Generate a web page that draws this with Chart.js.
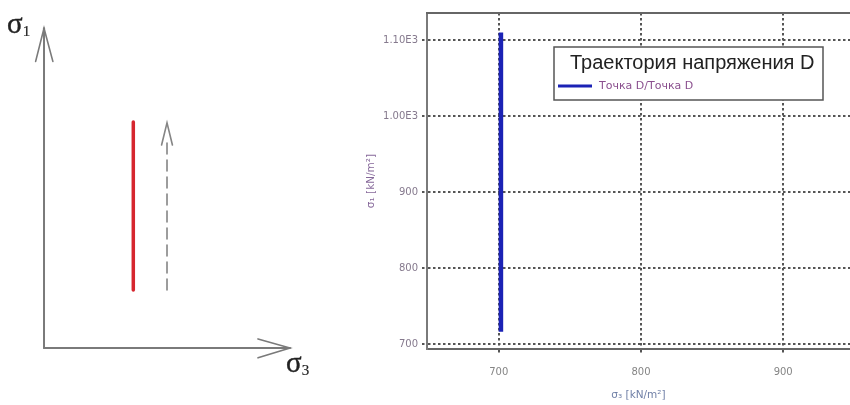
<!DOCTYPE html>
<html>
  <head>
    <meta charset="utf-8">
    <script src="https://cdn.jsdelivr.net/npm/chart.js"></script>

    <script type="text/javascript">
      // left sketch, in loose schematic units (origin = axes corner)
      var sketchAxisS1 = [{x: 0, y: 0}, {x: 0, y: 13}];
      var sketchArrowS1 = [{x: -0.34, y: 11.65}, {x: 0, y: 13}, {x: 0.36, y: 11.65}];
      var sketchAxisS3 = [{x: 0, y: 0}, {x: 10, y: 0}];
      var sketchArrowS3 = [{x: 8.7, y: 0.37}, {x: 10, y: 0}, {x: 8.7, y: -0.4}];
      var sketchPathRed = [{x: 3.63, y: 2.36}, {x: 3.63, y: 9.19}];
      var sketchPathDash = [{x: 5.0, y: 2.36}, {x: 5.0, y: 8.5}];
      var sketchArrowDash = [{x: 4.78, y: 8.25}, {x: 5.0, y: 9.15}, {x: 5.22, y: 8.25}];

      // right chart: stress path D
      var sigma3 = [701.5, 701.5];
      var sigma1 = [716, 1110];
      var xTicks = [700, 800, 900];
      var yTicks = [700, 800, 900, 1000, 1100];
      var yTickLabels = ["700", "800", "900", "1.00E3", "1.10E3"];
      var legendTitle = "Траектория напряжения D";
      var seriesLabel = "Точка D/Точка D";

      function drawSketch() {
        const ctx = document.getElementById('sketchChart');
        const grey = '#7a7a7a';
        new Chart(ctx, {
          type: 'scatter',
          data: {
            datasets: [
              {data: sketchAxisS1, borderColor: grey, borderWidth: 2},
              {data: sketchArrowS1, borderColor: grey, borderWidth: 1.6},
              {data: sketchAxisS3, borderColor: grey, borderWidth: 2},
              {data: sketchArrowS3, borderColor: grey, borderWidth: 1.6},
              {data: sketchPathRed, borderColor: '#d6262e', borderWidth: 3.5},
              {data: sketchPathDash, borderColor: '#858585', borderWidth: 1.6, borderDash: [11, 6]},
              {data: sketchArrowDash, borderColor: '#858585', borderWidth: 1.6}
            ].map(function (d) {
              d.showLine = true;
              d.pointRadius = 0;
              d.clip = false;
              d.borderCapStyle = 'round';
              return d;
            })
          },
          options: {
            animation: false,
            responsive: false,
            events: [],
            layout: {padding: 0},
            plugins: {legend: {display: false}, tooltip: {enabled: false}},
            scales: {
              x: {display: false, min: -1.789, max: 11.626},
              y: {display: false, min: -2.317, max: 14.146}
            }
          }
        });
      }

      const frameAndLegend = {
        id: 'frameAndLegend',
        afterDatasetsDraw(chart) {
          const c = chart.ctx;
          const a = chart.chartArea;
          c.save();
          // top edge of the plot frame
          c.strokeStyle = '#666';
          c.lineWidth = 2;
          c.beginPath();
          c.moveTo(a.left - 1, a.top);
          c.lineTo(a.right, a.top);
          c.stroke();

          // boxed legend
          const bx = 214, by = 47, bw = 269, bh = 53;
          c.fillStyle = '#fff';
          c.fillRect(bx, by, bw, bh);
          c.strokeStyle = '#555';
          c.lineWidth = 1.5;
          c.strokeRect(bx, by, bw, bh);
          c.fillStyle = '#222';
          c.font = '20px "Liberation Sans", Arial, sans-serif';
          c.textBaseline = 'alphabetic';
          c.fillText(legendTitle, bx + 16, by + 22);
          const ds = chart.data.datasets[0];
          c.strokeStyle = ds.borderColor;
          c.lineWidth = 3;
          c.beginPath();
          c.moveTo(bx + 4, by + 39);
          c.lineTo(bx + 38, by + 39);
          c.stroke();
          c.fillStyle = '#8a4f8e';
          c.font = '11px "DejaVu Sans", sans-serif';
          c.textBaseline = 'middle';
          c.fillText(ds.label, bx + 45, by + 39);
          c.restore();
        }
      };

      function drawChart() {
        const ctx = document.getElementById('pathChart');
        const gridColor = '#555';
        const tickFont = {family: '"DejaVu Sans", sans-serif', size: 10};

        new Chart(ctx, {
          type: 'scatter',
          data: {
            datasets: [{
              label: seriesLabel,
              data: sigma3.map(function (v, i) { return {x: v, y: sigma1[i]}; }),
              showLine: true,
              borderColor: '#1b22b5',
              borderWidth: 4.5,
              pointRadius: 0
            }]
          },
          options: {
            animation: false,
            responsive: false,
            events: [],
            layout: {padding: {top: 13, right: 0, bottom: 0, left: 0}},
            plugins: {legend: {display: false}, tooltip: {enabled: false}},
            scales: {
              x: {
                min: 649.5,
                max: 947,
                afterBuildTicks: function (s) { s.ticks = xTicks.map(function (v) { return {value: v}; }); },
                afterFit: function (s) { s.height = 56; },
                ticks: {font: tickFont, color: '#858585', padding: 12, maxRotation: 0},
                grid: {color: gridColor, lineWidth: 2, tickLength: 5, tickBorderDash: [2.5, 2.5], tickColor: gridColor},
                border: {display: true, color: '#666', width: 2, dash: [2.5, 2.5]},
                title: {
                  display: true,
                  text: 'σ₃ [kN/m²]',
                  color: '#6f7fa6',
                  font: {family: '"DejaVu Sans", sans-serif', size: 10.5},
                  padding: {top: 0, bottom: 3}
                }
              },
              y: {
                min: 693.4,
                max: 1135.5,
                afterBuildTicks: function (s) { s.ticks = yTicks.map(function (v) { return {value: v}; }); },
                afterFit: function (s) { s.width = 87; },
                ticks: {
                  font: tickFont,
                  color: '#85798d',
                  padding: 4,
                  callback: function (v) { return yTickLabels[yTicks.indexOf(v)]; }
                },
                grid: {color: gridColor, lineWidth: 2, tickLength: 5, tickBorderDash: [2.5, 2.5], tickColor: gridColor},
                border: {display: true, color: '#7a7a7a', width: 2, dash: [2.5, 2.5]},
                title: {
                  display: true,
                  text: 'σ₁ [kN/m²]',
                  color: '#86689a',
                  font: {family: '"DejaVu Sans", sans-serif', size: 10.5},
                  padding: {top: 25, bottom: 0}
                }
              }
            }
          },
          plugins: [frameAndLegend]
        });
      }

      window.addEventListener('load', function () {
        drawSketch();
        drawChart();
      });
    </script>

    <style>
      body { margin: 0; background: #fff; width: 850px; height: 405px; overflow: hidden; position: relative; }
      #sketch_div { position: absolute; left: 0; top: 0; width: 330px; height: 405px; }
      #chart_div { position: absolute; left: 340px; top: 0; width: 510px; height: 405px; }
      .sig { position: absolute; font-family: "Liberation Serif", "DejaVu Serif", serif; font-size: 29px; color: #222; line-height: 1; -webkit-text-stroke: 0.4px #222; }
      .sig sub { font-size: 15px; vertical-align: -3px; margin-left: 0px; -webkit-text-stroke: 0.2px #222; }
    </style>
  </head>

  <body>
    <div id="sketch_div"><canvas id="sketchChart" width="330" height="405"></canvas></div>
    <div class="sig" style="left: 7px; top: 9px;">σ<sub>1</sub></div>
    <div class="sig" style="left: 286px; top: 348px;">σ<sub>3</sub></div>
    <div id="chart_div"><canvas id="pathChart" width="510" height="405"></canvas></div>
  </body>
</html>
